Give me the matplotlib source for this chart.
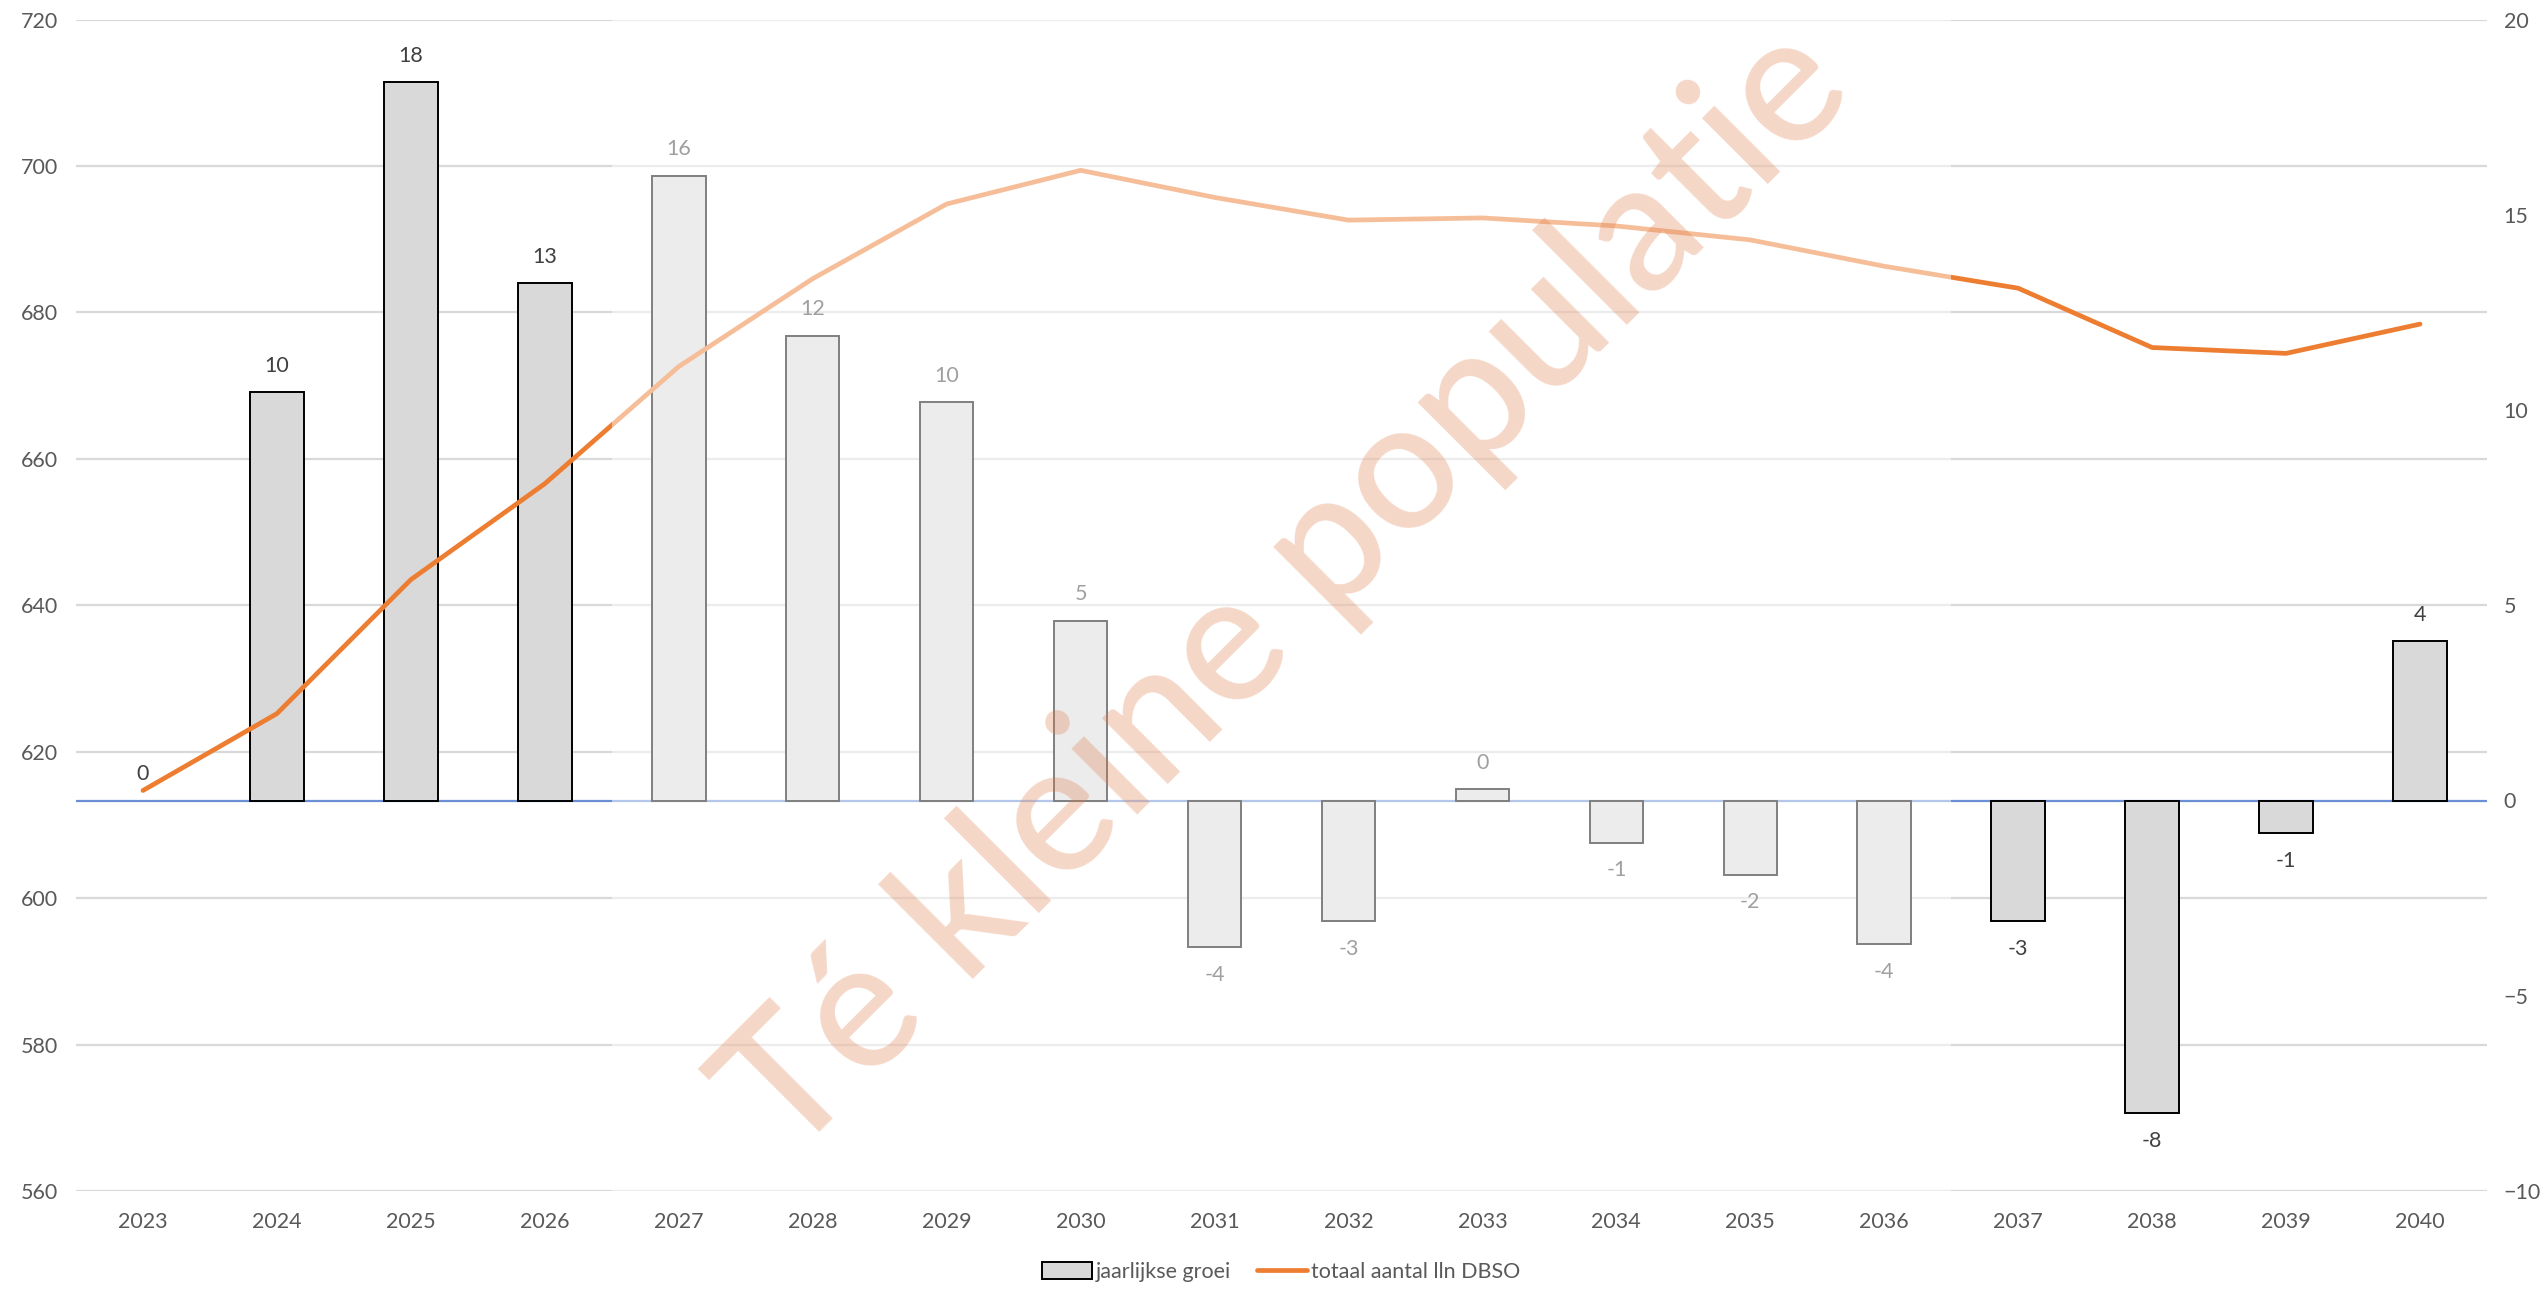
import matplotlib
matplotlib.use("Agg")
import numpy as np
import matplotlib.pyplot as plt
import matplotlib.transforms as mtransforms
from matplotlib.patches import Rectangle, Patch
from matplotlib.lines import Line2D

# ---------------- data ----------------
years = [str(y) for y in range(2023, 2041)]
growth = [0.0, 10.46, 18.4, 13.25, 16.0, 11.9, 10.2, 4.6, -3.75, -3.08,
          0.29, -1.08, -1.9, -3.67, -3.08, -8.0, -0.83, 4.08]
total = [614.7, 625.2, 643.5, 656.6, 672.6, 684.6, 694.8, 699.4, 695.7, 692.6,
         692.9, 691.8, 689.9, 686.3, 683.3, 675.2, 674.4, 678.4]
left_ticks = [560, 580, 600, 620, 640, 660, 680, 700, 720]
right_ticks = [-10, -5, 0, 5, 10, 15, 20]
faded_years = ["2027", "2036"]          # first / last year under the faded band
bar_name = "jaarlijkse groei"
line_name = "totaal aantal lln DBSO"
watermark = "Té kleine populatie"

# ---------------- style ----------------
plt.rcParams['font.family'] = ['Lato', 'DejaVu Sans']
W, H = 2547, 1292
fig = plt.figure(figsize=(W / 100, H / 100), dpi=100)
fig.patch.set_facecolor('white')

L, R, T, B = 76, 2487, 19.5, 1191
rect = [L / W, 1 - B / H, (R - L) / W, (B - T) / H]

tick_color = '#595959'
label_color = '#404040'
fs = 15.5
orange = '#ED7D31'

x = np.arange(len(years))

# base axes: left scale + gridlines
ax = fig.add_axes(rect)
ax.set_xlim(-0.5, len(years) - 0.5)
ax.set_ylim(left_ticks[0], left_ticks[-1])
ax.set_yticks(left_ticks)
ax.set_xticks(x, years)
ax.grid(axis='y', color='#D9D9D9', linewidth=1.6)
ax.set_axisbelow(True)
for s in ax.spines.values():
    s.set_visible(False)
ax.tick_params(axis='both', length=0, labelsize=fs, labelcolor=tick_color)
ax.tick_params(axis='y', pad=13)
ax.tick_params(axis='x', pad=15)

# bars on secondary scale
ax_bar = ax.twinx()
ax_bar.set_ylim(right_ticks[0], right_ticks[-1])
ax_bar.set_yticks(right_ticks)
for s in ax_bar.spines.values():
    s.set_visible(False)
ax_bar.tick_params(axis='y', length=0, labelsize=fs, labelcolor=tick_color, pad=12)
ax_bar.axhline(0, color='#6A8FD4', linewidth=1.6, zorder=0.9)
edge_widths = [1.4 if v != 0 else 0 for v in growth]
bars = ax_bar.bar(x, growth, width=0.4, color='#D9D9D9', edgecolor='black',
                  linewidth=edge_widths, zorder=1)
for xi, v in zip(x, growth):
    off = 19 if v >= 0 else -20
    ax_bar.annotate(f"{v:.0f}", (xi, v), xytext=(0, off), textcoords='offset points',
                    ha='center', va='center', fontsize=fs, color=label_color)

# line on primary scale (drawn on top)
ax_line = ax.twinx()
ax_line.set_ylim(left_ticks[0], left_ticks[-1])
ax_line.set_axis_off()
ax_line.plot(x, total, color=orange, linewidth=3.4, solid_capstyle='round',
             solid_joinstyle='round', zorder=2)

# faded band
i0 = years.index(faded_years[0]) - 0.5
i1 = years.index(faded_years[1]) + 0.5
trans = mtransforms.blended_transform_factory(ax_line.transData, ax_line.transAxes)
ax_line.add_patch(Rectangle((i0, 0), i1 - i0, 1.0, transform=trans,
                            facecolor='white', alpha=0.5, edgecolor='none', zorder=5))

# watermark
fig.text(1287 / W, 1 - 592 / H, watermark, rotation=45, rotation_mode='anchor',
         ha='center', va='center', fontsize=130, fontweight='medium',
         color='#DE7B48', alpha=0.3, zorder=10)

# legend
handles = [Patch(facecolor='#D9D9D9', edgecolor='black', linewidth=1.4),
           Line2D([0], [0], color=orange, linewidth=3.4, solid_capstyle='round')]
fig.legend(handles, [bar_name, line_name], loc='center', bbox_to_anchor=(0.503, 1 - 1272 / H),
           ncol=2, frameon=False, fontsize=fs, handlelength=2.3, handleheight=0.8,
           handletextpad=0.2, columnspacing=1.2, labelcolor=tick_color)

fig.savefig('out.png', dpi=100, facecolor='white')
